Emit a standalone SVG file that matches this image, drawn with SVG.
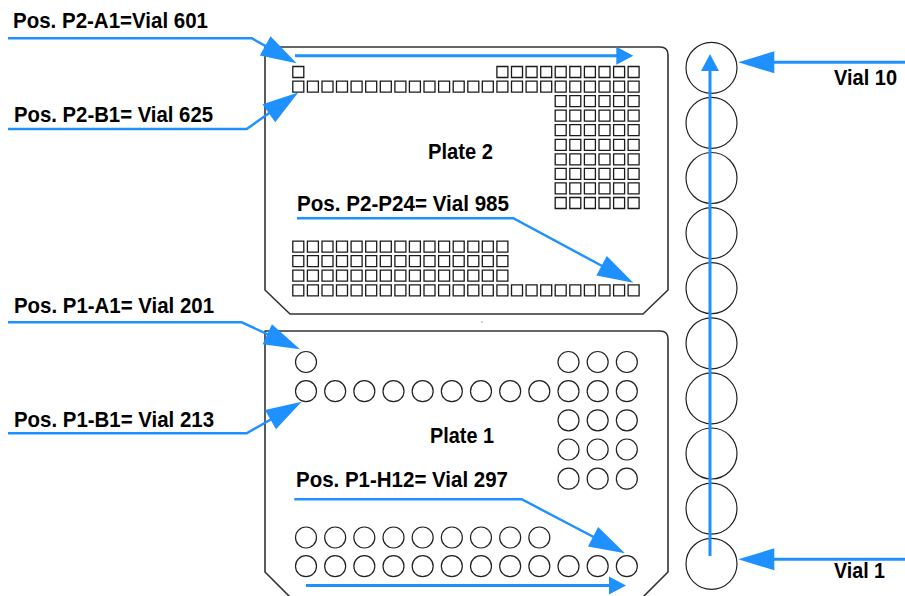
<svg xmlns="http://www.w3.org/2000/svg" xmlns:xlink="http://www.w3.org/1999/xlink" width="905" height="596" viewBox="0 0 905 596">
<style>
.plate{fill:none;stroke:#333;stroke-width:1.6;stroke-linejoin:round}
.sq{fill:none;stroke:#1a1a1a;stroke-width:1.3}
.well{fill:none;stroke:#222;stroke-width:1.2}
.vial{fill:none;stroke:#222;stroke-width:1.2}
.lbl{font-family:"Liberation Sans",Arial,sans-serif;font-weight:bold;font-size:21.5px;fill:#000}
.arr{fill:none;stroke:#1E90FF;stroke-width:2.4}
.arr3{fill:none;stroke:#1E90FF;stroke-width:3}
</style>
<defs>
<marker id="big" markerUnits="userSpaceOnUse" viewBox="-27 -12 38 24" markerWidth="38" markerHeight="24" refX="0" refY="0" orient="auto"><path d="M10,0 L-26,-11 L-26,11 z" fill="#1E90FF"/></marker>
<marker id="small" markerUnits="userSpaceOnUse" viewBox="-10 -10 19 20" markerWidth="19" markerHeight="20" refX="0" refY="0" orient="auto"><path d="M8,0 L-9,-9 L-9,9 z" fill="#1E90FF"/></marker>
<path id="sq24" class="sq" d="M0 0h11v11h-11zM14.6 0h11v11h-11zM29.2 0h11v11h-11zM43.7 0h11v11h-11zM58.3 0h11v11h-11zM72.9 0h11v11h-11zM87.5 0h11v11h-11zM102.1 0h11v11h-11zM116.6 0h11v11h-11zM131.2 0h11v11h-11zM145.8 0h11v11h-11zM160.4 0h11v11h-11zM175 0h11v11h-11zM189.5 0h11v11h-11zM204.1 0h11v11h-11zM218.7 0h11v11h-11zM233.3 0h11v11h-11zM247.9 0h11v11h-11zM262.4 0h11v11h-11zM277 0h11v11h-11zM291.6 0h11v11h-11zM306.2 0h11v11h-11zM320.8 0h11v11h-11zM335.3 0h11v11h-11z"/>
<path id="sq15" class="sq" d="M0 0h11v11h-11zM14.6 0h11v11h-11zM29.2 0h11v11h-11zM43.7 0h11v11h-11zM58.3 0h11v11h-11zM72.9 0h11v11h-11zM87.5 0h11v11h-11zM102.1 0h11v11h-11zM116.6 0h11v11h-11zM131.2 0h11v11h-11zM145.8 0h11v11h-11zM160.4 0h11v11h-11zM175 0h11v11h-11zM189.5 0h11v11h-11zM204.1 0h11v11h-11z"/>
<path id="sq10" class="sq" d="M204.1 0h11v11h-11zM218.7 0h11v11h-11zM233.3 0h11v11h-11zM247.9 0h11v11h-11zM262.4 0h11v11h-11zM277 0h11v11h-11zM291.6 0h11v11h-11zM306.2 0h11v11h-11zM320.8 0h11v11h-11zM335.3 0h11v11h-11z"/>
<path id="sq6" class="sq" d="M262.4 0h11v11h-11zM277 0h11v11h-11zM291.6 0h11v11h-11zM306.2 0h11v11h-11zM320.8 0h11v11h-11zM335.3 0h11v11h-11z"/>
<g id="cr9" class="well"><circle cx="0" cy="0" r="10.5"/><circle cx="29.17" cy="0" r="10.5"/><circle cx="58.33" cy="0" r="10.5"/><circle cx="87.5" cy="0" r="10.5"/><circle cx="116.67" cy="0" r="10.5"/><circle cx="145.83" cy="0" r="10.5"/><circle cx="175" cy="0" r="10.5"/><circle cx="204.17" cy="0" r="10.5"/><circle cx="233.33" cy="0" r="10.5"/></g>
<g id="cr3" class="well"><circle cx="0" cy="0" r="10.5"/><circle cx="29.17" cy="0" r="10.5"/><circle cx="58.33" cy="0" r="10.5"/></g>
</defs>
<rect width="905" height="596" fill="#fff"/>

<g id="plate2">
<path class="plate" d="M265,47 H660 Q668,47 668,55 V290 L643,314 H290 L265,290 Z"/>
<path class="sq" d="M292.8 66.5h11v11h-11z"/>
<use xlink:href="#sq10" x="292.8" y="66.5"/>
<use xlink:href="#sq24" x="292.8" y="81.1"/>
<use xlink:href="#sq6" x="292.8" y="95.6"/>
<use xlink:href="#sq6" x="292.8" y="110.2"/>
<use xlink:href="#sq6" x="292.8" y="124.7"/>
<use xlink:href="#sq6" x="292.8" y="139.3"/>
<use xlink:href="#sq6" x="292.8" y="153.8"/>
<use xlink:href="#sq6" x="292.8" y="168.4"/>
<use xlink:href="#sq6" x="292.8" y="182.9"/>
<use xlink:href="#sq6" x="292.8" y="197.5"/>
<use xlink:href="#sq15" x="292.8" y="241.1"/>
<use xlink:href="#sq15" x="292.8" y="255.7"/>
<use xlink:href="#sq15" x="292.8" y="270.2"/>
<use xlink:href="#sq24" x="292.8" y="284.8"/>
<text class="lbl" x="428" y="158.5" textLength="65" lengthAdjust="spacingAndGlyphs">Plate 2</text>
</g>

<rect x="481.5" y="321.5" width="1" height="1" fill="#444"/>

<g id="plate1">
<path class="plate" d="M290,597 L265,572 V331 H660 Q668,331 668,339 V572 L643,597"/>
<circle class="well" cx="306" cy="362" r="10.5"/>
<use xlink:href="#cr3" x="568.5" y="362"/>
<use xlink:href="#cr9" x="306" y="391.2"/>
<use xlink:href="#cr3" x="568.5" y="391.2"/>
<use xlink:href="#cr3" x="568.5" y="420.3"/>
<use xlink:href="#cr3" x="568.5" y="449.5"/>
<use xlink:href="#cr3" x="568.5" y="478.7"/>
<use xlink:href="#cr9" x="306" y="537.5"/>
<use xlink:href="#cr9" x="306" y="566.2"/>
<use xlink:href="#cr3" x="568.5" y="566.2"/>
<text class="lbl" x="430" y="443.3" textLength="64" lengthAdjust="spacingAndGlyphs">Plate 1</text>
</g>

<g id="vials" class="vial">
<circle cx="711.5" cy="67.8" r="25.5"/>
<circle cx="711.5" cy="122.9" r="25.5"/>
<circle cx="711.5" cy="178" r="25.5"/>
<circle cx="711.5" cy="233.1" r="25.5"/>
<circle cx="711.5" cy="288.2" r="25.5"/>
<circle cx="711.5" cy="343.3" r="25.5"/>
<circle cx="711.5" cy="398.4" r="25.5"/>
<circle cx="711.5" cy="453.5" r="25.5"/>
<circle cx="711.5" cy="508.6" r="25.5"/>
<circle cx="711.5" cy="563.8" r="25.5"/>
</g>

<g id="labels">
<text class="lbl" x="13" y="28" textLength="195" lengthAdjust="spacingAndGlyphs">Pos. P2-A1=Vial 601</text>
<text class="lbl" x="14" y="122" textLength="199" lengthAdjust="spacingAndGlyphs">Pos. P2-B1= Vial 625</text>
<text class="lbl" x="297" y="211" textLength="212" lengthAdjust="spacingAndGlyphs">Pos. P2-P24= Vial 985</text>
<text class="lbl" x="14" y="312.7" textLength="200" lengthAdjust="spacingAndGlyphs">Pos. P1-A1= Vial 201</text>
<text class="lbl" x="14" y="426.7" textLength="200" lengthAdjust="spacingAndGlyphs">Pos. P1-B1= Vial 213</text>
<text class="lbl" x="296" y="487.3" textLength="212" lengthAdjust="spacingAndGlyphs">Pos. P1-H12= Vial 297</text>
<text class="lbl" x="834" y="85" textLength="63" lengthAdjust="spacingAndGlyphs">Vial 10</text>
<text class="lbl" x="834" y="578" textLength="51" lengthAdjust="spacingAndGlyphs">Vial 1</text>
</g>

<g id="connectors">
<path class="arr" d="M8,38.3 H251.7 L287.9,58.4" marker-end="url(#big)"/>
<path class="arr" d="M8,129 H246.7 L290.1,98.3" marker-end="url(#big)"/>
<path class="arr" d="M297,218.3 H513.3 L624.5,278" marker-end="url(#big)"/>
<path class="arr" d="M8,322.3 H241.7 L290.9,345.1" marker-end="url(#big)"/>
<path class="arr" d="M8,433.3 H246.7 L293,406.7" marker-end="url(#big)"/>
<path class="arr" d="M294.3,499.3 H521.7 L616.1,548.7" marker-end="url(#big)"/>
<path class="arr3" d="M905,62.3 H748.3" marker-end="url(#big)"/>
<path class="arr3" d="M905,559.3 H748.3" marker-end="url(#big)"/>
<path class="arr3" d="M295,55.7 H625.3" marker-end="url(#small)"/>
<path class="arr3" d="M306,585.5 H618" marker-end="url(#small)"/>
<path class="arr3" d="M710,556 V62" marker-end="url(#small)"/>
</g>
</svg>
